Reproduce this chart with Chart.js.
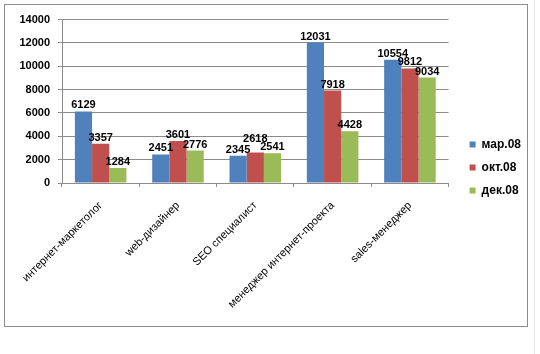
<!DOCTYPE html>
<html>
<head>
<meta charset="utf-8">
<script src="https://cdn.jsdelivr.net/npm/chart.js@4/dist/chart.umd.min.js"></script>
<style>
  html, body { margin: 0; padding: 0; background: #fff; }
  #frame {
    position: absolute; left: 4px; top: 4px;
    width: 522px; height: 321px;
    border: 1px solid #8c8c8c;
    box-sizing: content-box;
  }
  #edge { position: absolute; left: 534px; top: 0; width: 1px; height: 354px; background: #e4e4e4; }
</style>
</head>
<body>
<div id="edge"></div>
<div id="frame"><canvas id="chart" width="522" height="321"></canvas></div>
<script>
// professions (categories)
const categories = ['интернет-маркетолог', 'web-дизайнер', 'SEO специалист', 'менеджер интернет-проекта', 'sales-менеджер'];
// salary per period
const mar08 = [6129, 2451, 2345, 12031, 10554];
const oct08 = [3357, 3601, 2618, 7918, 9812];
const dec08 = [1284, 2776, 2541, 4428, 9034];
const seriesNames = ['мар.08', 'окт.08', 'дек.08'];
const yTicks = [0, 2000, 4000, 6000, 8000, 10000, 12000, 14000];

const FONT = "'Liberation Sans', Arial, sans-serif";

// value above every bar, lifted when it would sit on a neighbour's label
const valueLabels = {
    id: 'valueLabels',
    afterDatasetsDraw(chart) {
        const ctx = chart.ctx;
        ctx.save();
        ctx.font = 'bold 11px ' + FONT;
        ctx.fillStyle = '#000';
        ctx.textAlign = 'center';
        ctx.textBaseline = 'alphabetic';
        const placed = [];
        chart.data.labels.forEach((_, j) => {
            chart.data.datasets.forEach((ds, i) => {
                const bar = chart.getDatasetMeta(i).data[j];
                const text = String(ds.data[j]);
                const w = ctx.measureText(text).width;
                let base = bar.y - 3;
                const box = () => ({ l: bar.x - w / 2, r: bar.x + w / 2, t: base - 8, b: base });
                let b = box();
                placed.forEach(p => {
                    if (b.l < p.r && b.r > p.l && b.t < p.b && b.b > p.t) {
                        base = p.t - 3;
                        b = box();
                    }
                });
                placed.push(b);
                ctx.fillText(text, bar.x, base);
            });
        });
        ctx.restore();
    }
};

// nudge the legend a little further from the plot
const legendShift = {
    id: 'legendShift',
    afterLayout(chart) {
        const lg = chart.legend;
        lg.left += 10; lg.right += 10;
        lg.top -= 4; lg.bottom -= 4;
    }
};

new Chart(document.getElementById('chart'), {
    type: 'bar',
    data: {
        labels: categories,
        datasets: [
            { label: seriesNames[0], data: mar08, backgroundColor: '#4F81BD' },
            { label: seriesNames[1], data: oct08, backgroundColor: '#C0504D' },
            { label: seriesNames[2], data: dec08, backgroundColor: '#9BBB59' },
        ],
    },
    options: {
        responsive: false,
        animation: false,
        layout: { padding: { top: 12, right: 6, left: 0, bottom: 0 } },
        datasets: { bar: { categoryPercentage: 0.667, barPercentage: 1.0 } },
        plugins: {
            legend: {
                position: 'right',
                labels: {
                    boxWidth: 6, boxHeight: 6, padding: 11,
                    color: '#000',
                    font: { family: FONT, size: 12, weight: 'bold' },
                },
            },
            tooltip: { enabled: false },
        },
        scales: {
            x: {
                grid: { display: true, drawOnChartArea: false, drawTicks: true, tickLength: 4, color: '#8c8c8c' },
                border: { display: true, color: '#8c8c8c' },
                ticks: {
                    color: '#000', maxRotation: 45, minRotation: 45, autoSkip: false, padding: 12,
                    font: { family: FONT, size: 11 },
                },
                afterFit(scale) { scale.height = 143; },
            },
            y: {
                min: 0, max: 14000,
                afterBuildTicks(scale) { scale.ticks = yTicks.map(v => ({ value: v })); },
                grid: { color: '#8c8c8c', tickLength: 4 },
                border: { display: true, color: '#8c8c8c' },
                ticks: {
                    color: '#000', padding: 8,
                    font: { family: FONT, size: 11, weight: 'bold' },
                    callback: v => String(v),
                },
                afterFit(scale) { scale.width = 57; },
            },
        },
    },
    plugins: [valueLabels, legendShift],
});
</script>
</body>
</html>
